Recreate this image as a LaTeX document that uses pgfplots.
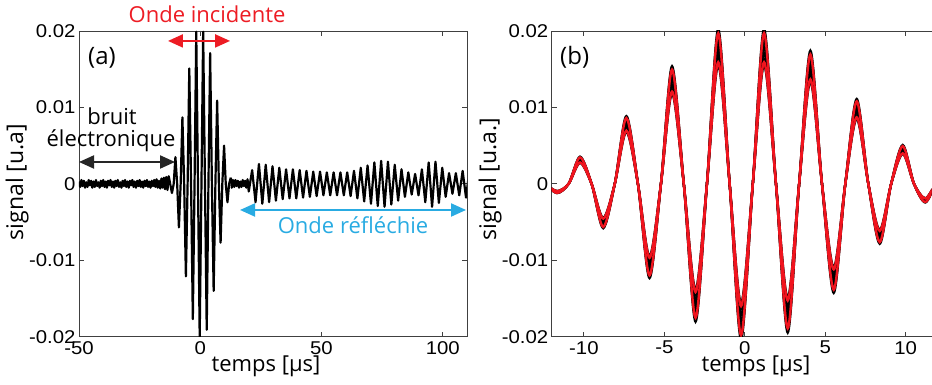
\documentclass[border=0pt]{standalone}
\usepackage{fontspec}
\setmainfont{Liberation Sans}
\newfontfamily\lab{Open Sans}
\newfontfamily\tickf{Liberation Sans}[FakeStretch=1.1]
\usepackage{pgfplots}
\pgfplotsset{compat=1.18}
\usepackage{pgfplotstable}
\usetikzlibrary{arrows.meta}
\definecolor{myred}{RGB}{237,28,36}
\definecolor{myblue}{RGB}{41,171,226}
\definecolor{plotred}{RGB}{240,20,30}

\pgfplotstableread{
t y
-12.40 0.0000
-11.67 -0.0012
-10.95 0.0000
-10.24 0.0035
-9.52 0.0000
-8.80 -0.0057
-8.08 0.0000
-7.36 0.0087
-6.64 0.0000
-5.92 -0.0121
-5.21 0.0000
-4.52 0.0151
-3.79 0.0000
-3.06 -0.0177
-2.35 0.0000
-1.65 0.0199
-0.94 0.0000
-0.23 -0.0200
0.50 0.0000
1.20 0.0199
1.94 0.0000
2.67 -0.0191
3.38 0.0000
4.08 0.0171
4.80 0.0000
5.53 -0.0140
6.25 0.0000
6.96 0.0109
7.68 0.0000
8.39 -0.0077
9.10 0.0000
9.82 0.0050
10.52 0.0000
11.22 -0.0024
11.90 0.0000
12.60 0.0008
}\burst

\pgfplotstableread{
t y
-50.0 0.0003
-49.5 -0.0004
-49.0 0.0005
-48.5 -0.0003
-48.0 0.0004
-47.5 -0.0005
-47.0 0.0002
-46.5 -0.0004
-46.0 0.0005
-45.5 -0.0002
-45.0 0.0004
-44.5 -0.0005
-44.0 0.0003
-43.5 -0.0004
-43.0 0.0005
-42.5 -0.0003
-42.0 0.0002
-41.5 -0.0005
-41.0 0.0004
-40.5 -0.0003
-40.0 0.0005
-39.5 -0.0004
-39.0 0.0003
-38.5 -0.0005
-38.0 0.0004
-37.5 -0.0002
-37.0 0.0005
-36.5 -0.0004
-36.0 0.0003
-35.5 -0.0005
-35.0 0.0004
-34.5 -0.0003
-34.0 0.0005
-33.5 -0.0004
-33.0 0.0002
-32.5 -0.0005
-32.0 0.0004
-31.5 -0.0003
-31.0 0.0005
-30.5 -0.0004
-30.0 0.0003
-29.5 -0.0005
-29.0 0.0004
-28.5 -0.0002
-28.0 0.0005
-27.5 -0.0004
-27.0 0.0003
-26.5 -0.0005
-26.0 0.0004
-25.5 -0.0003
-25.0 0.0005
-24.5 -0.0004
-24.0 0.0003
-23.5 -0.0005
-23.0 0.0004
-22.5 -0.0003
-22.0 0.0005
-21.5 -0.0004
-21.0 0.0003
-20.5 -0.0005
-20.0 0.0004
-19.5 -0.0003
-19.0 0.0005
-18.5 -0.0004
-18.0 0.0006
-17.5 -0.0005
-17.0 0.0004
-16.5 -0.0006
-16.0 0.0007
-15.5 -0.0005
-15.0 0.0008
-14.5 -0.0007
-14.0 0.0009
-13.5 -0.0008
-13.0 0.0010
-12.4 0.0000
}\noise

\pgfplotstableread{
t y
12.60 0.0008
13.0 -0.0005
13.5 0.0005
14.0 -0.0004
14.5 0.0005
15.0 -0.0003
15.5 0.0004
16.0 -0.0005
16.5 0.0003
17.0 -0.0004
17.5 0.0005
18.0 -0.0003
18.5 0.0004
19.0 -0.0005
19.5 0.0006
20.0 -0.0010
21.4 0.0018
22.8 -0.0024
24.2 0.0026
25.6 -0.0026
27.0 0.0025
28.4 -0.0024
29.8 0.0023
31.2 -0.0022
32.6 0.0021
34.0 -0.0020
35.4 0.0019
36.8 -0.0019
38.2 0.0019
39.6 -0.0019
41.0 0.0018
42.4 -0.0018
43.8 0.0017
45.2 -0.0017
46.6 0.0016
48.0 -0.0016
49.4 0.0016
50.8 -0.0015
52.2 0.0015
53.6 -0.0015
55.0 0.0015
56.4 -0.0015
57.8 0.0015
59.2 -0.0015
60.6 0.0015
62.0 -0.0016
63.4 0.0017
64.8 -0.0019
66.2 0.0021
67.6 -0.0023
69.0 0.0024
70.4 -0.0026
71.8 0.0028
73.2 -0.0029
74.6 0.0030
76.0 -0.0030
77.4 0.0029
78.8 -0.0027
80.2 0.0025
81.6 -0.0022
83.0 0.0019
84.4 -0.0017
85.8 0.0015
87.2 -0.0014
88.6 0.0013
90.0 -0.0015
91.4 0.0019
92.8 -0.0024
94.2 0.0028
95.6 -0.0030
97.0 0.0029
98.4 -0.0025
99.8 0.0021
101.2 -0.0017
102.6 0.0014
104.0 -0.0013
105.4 0.0014
106.8 -0.0015
108.2 0.0017
109.6 -0.0018
111.0 0.0018
}\reflected

\tikzset{
  arr/.style={line width=2pt, {Triangle[length=15pt,width=13pt]}-{Triangle[length=15pt,width=13pt]}},
}
\pgfplotsset{
  myaxis/.style={
    scale only axis, anchor=south west,
    height=305.7pt,
    ymin=-0.02, ymax=0.02,
    ytick={-0.02,-0.01,0,0.01,0.02},
    yticklabels={-0.02,-0.01,0,0.01,0.02},
    scaled y ticks=false, scaled x ticks=false,
    tick align=inside, major tick length=5pt,
    axis line style={line width=0.8pt, black!75},
    tick style={line width=0.8pt, black!75},
    tick label style={font=\tickf\fontsize{18.5}{20}\selectfont, text=black},
    xticklabel style={yshift=-1pt},
    clip mode=individual,
  },
}

\begin{document}
\begin{tikzpicture}
\useasboundingbox (0,0) rectangle (932pt,385pt);

\begin{axis}[myaxis, at={(79pt,48.3pt)}, width=388pt,
  xmin=-50, xmax=110,
  xtick={-50,0,50,100}, xticklabels={-50,0,50,100}]
  \addplot[black, line width=2.2pt, line join=round] table[x=t,y=y] {\noise};
  \addplot[black, line width=2.2pt, line join=round] table[x=t,y=y] {\burst};
  \addplot[black, line width=2.2pt, line join=round] table[x=t,y=y] {\reflected};
  \draw[myred, arr] (axis cs:-13.3,0.0187) -- (axis cs:12.3,0.0187);
  \draw[black!85, arr] (axis cs:-50,0.00286) -- (axis cs:-10.4,0.00286);
  \draw[myblue, arr] (axis cs:16.4,-0.00342) -- (axis cs:109.6,-0.00342);
\end{axis}

\begin{axis}[myaxis, at={(551.7pt,48.3pt)}, width=380pt,
  xmin=-12, xmax=11.62,
  axis y line*=left, axis x line*=box,
  xtick={-10,-5,0,5,10}, xticklabels={-10,-5,0,5,10}]
  \addplot[black, line width=2.2pt, smooth] table[x=t, y expr=0.78*\thisrow{y}] {\burst};
  \addplot[black, line width=2.2pt, smooth] table[x=t, y expr=0.82*\thisrow{y}] {\burst};
  \addplot[black, line width=2.2pt, smooth] table[x=t, y expr=0.86*\thisrow{y}] {\burst};
  \addplot[black, line width=2.2pt, smooth] table[x=t, y expr=0.90*\thisrow{y}] {\burst};
  \addplot[black, line width=2.2pt, smooth] table[x=t, y expr=0.94*\thisrow{y}] {\burst};
  \addplot[black, line width=2.2pt, smooth] table[x=t, y expr=0.98*\thisrow{y}] {\burst};
  \addplot[black, line width=2.2pt, smooth] table[x=t, y expr=1.02*\thisrow{y}] {\burst};
  \addplot[plotred, line width=2.4pt, smooth] table[x=t, y expr=0.80*\thisrow{y}] {\burst};
  \addplot[plotred, line width=2.4pt, smooth] table[x=t, y expr=0.99*\thisrow{y}] {\burst};
\end{axis}

\begin{scope}[every node/.style={font=\lab\fontsize{22}{24}\selectfont, inner sep=0pt}]
  \node[myred, anchor=base] at (207pt,362pt) {Onde incidente};
  \node[anchor=base west, font=\lab\fontsize{24}{26}\selectfont] at (88pt,320pt) {(a)};
  \node[anchor=base west, font=\lab\fontsize{24}{26}\selectfont] at (560pt,320pt) {(b)};
  \node[anchor=base] at (112pt,260pt) {bruit};
  \node[anchor=base] at (111pt,238.3pt) {électronique};
  \node[myblue, anchor=base] at (353pt,151pt) {Onde réfléchie};
  \node[anchor=base] at (266pt,13pt) {temps [µs]};
  \node[anchor=base] at (756pt,13pt) {temps [µs]};
  \node[rotate=90, anchor=base, font=\lab\fontsize{23}{25}\selectfont] at (23pt,203pt) {signal [u.a]};
  \node[rotate=90, anchor=base, font=\lab\fontsize{23}{25}\selectfont] at (496pt,206pt) {signal [u.a.]};
\end{scope}
\end{tikzpicture}
\end{document}
